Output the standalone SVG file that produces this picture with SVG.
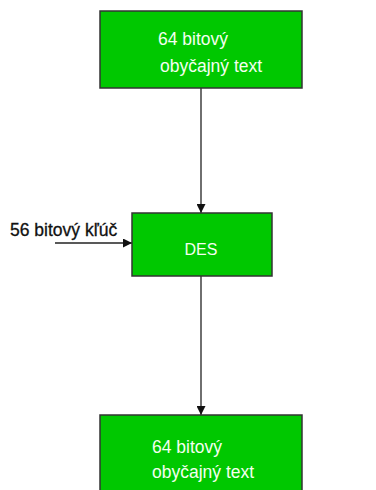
<svg xmlns="http://www.w3.org/2000/svg" width="376" height="490" viewBox="0 0 376 490">
<style>
.box{fill:#00c800;stroke:#333;stroke-width:1.5}
.t{font-family:"Liberation Sans",Arial,sans-serif;font-size:17.5px;fill:#f4fff0}
.l{font-family:"Liberation Sans",Arial,sans-serif;font-size:17.5px;fill:#111;stroke:#111;stroke-width:0.3}
.c{stroke:#222;stroke-width:1.3;fill:none;marker-end:url(#ah)}
</style>
<defs>
<marker id="ah" viewBox="0 0 10 10" refX="10" refY="5" markerWidth="9" markerHeight="9" markerUnits="userSpaceOnUse" orient="auto">
<path d="M0,0 L10,5 L0,10 z" fill="#111"/>
</marker>
</defs>
<rect width="376" height="490" fill="#fff"/>
<g id="connectors">
<line class="c" x1="201" y1="88" x2="201" y2="213"/>
<line class="c" x1="201" y1="276" x2="201" y2="415"/>
<line class="c" x1="55" y1="243" x2="132" y2="243"/>
</g>
<g id="top">
<rect class="box" x="100" y="11" width="202" height="77"/>
<text class="t" x="158" y="45">64 bitový</text>
<text class="t" x="160" y="72">obyčajný text</text>
</g>
<g id="des">
<rect class="box" x="132" y="213" width="140" height="63"/>
<text class="t" x="201" y="255" text-anchor="middle" style="font-size:16px">DES</text>
</g>
<g id="key">
<text class="l" x="10" y="236">56 bitový kľúč</text>
</g>
<g id="bottom">
<rect class="box" x="100" y="415" width="202" height="80"/>
<text class="t" x="152" y="453">64 bitový</text>
<text class="t" x="152" y="478">obyčajný text</text>
</g>
</svg>
